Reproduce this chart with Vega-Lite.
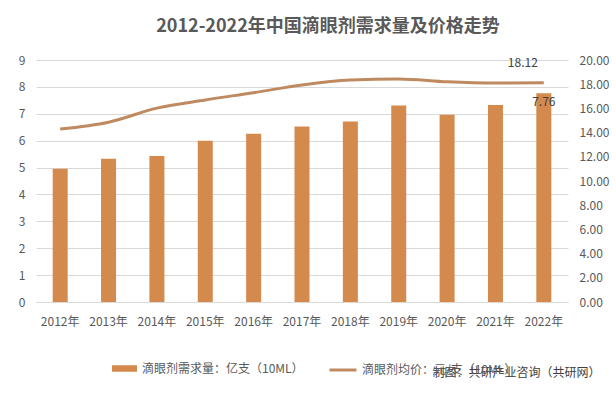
{
  "$schema": "https://vega.github.io/schema/vega-lite/v6.json",
  "width": 532,
  "height": 242,
  "autosize": {"type": "none"},
  "padding": {"left": 36, "top": 60, "right": 48, "bottom": 91},
  "background": "#ffffff",
  "config": {
    "font": "Noto Sans CJK SC",
    "view": {"stroke": null}
  },
  "title": {
    "text": "2012-2022年中国滴眼剂需求量及价格走势",
    "fontSize": 18,
    "fontWeight": "bold",
    "color": "#595959",
    "anchor": "middle",
    "dx": 26,
    "offset": 18
  },
  "data": {
    "values": [
      {"year": "2012年", "demand": 4.96, "price": 14.29},
      {"year": "2013年", "demand": 5.33, "price": 14.86},
      {"year": "2014年", "demand": 5.43, "price": 16.02},
      {"year": "2015年", "demand": 6.0, "price": 16.7},
      {"year": "2016年", "demand": 6.26, "price": 17.3},
      {"year": "2017年", "demand": 6.53, "price": 17.94},
      {"year": "2018年", "demand": 6.71, "price": 18.35},
      {"year": "2019年", "demand": 7.31, "price": 18.44},
      {"year": "2020年", "demand": 6.96, "price": 18.2},
      {"year": "2021年", "demand": 7.33, "price": 18.1},
      {"year": "2022年", "demand": 7.76, "price": 18.12}
    ]
  },
  "encoding": {
    "x": {
      "field": "year",
      "type": "ordinal",
      "sort": null,
      "scale": {"paddingInner": 0.69, "paddingOuter": 0.345},
      "axis": {
        "title": "制图：共研产业咨询（共研网）",
        "titleFontSize": 12,
        "titleFontWeight": "normal",
        "titleColor": "#404040",
        "titleX": 396,
        "titleY": 70,
        "titleAlign": "left",
        "titleAnchor": null,
        "titleBaseline": "middle",
        "labelAngle": 0,
        "labelFontSize": 12,
        "labelColor": "#595959",
        "labelPadding": 14,
        "labelOverlap": false,
        "ticks": false,
        "domain": true,
        "domainColor": "#D9D9D9"
      }
    }
  },
  "layer": [
    {
      "encoding": {
        "y": {
          "field": "demand",
          "type": "quantitative",
          "scale": {"domain": [0, 9], "nice": false},
          "axis": {
            "title": null,
            "values": [0, 1, 2, 3, 4, 5, 6, 7, 8, 9],
            "labelFontSize": 12,
            "labelColor": "#595959",
            "labelPadding": 11,
            "labelOverlap": false,
            "labelFlush": false,
            "ticks": false,
            "domain": false,
            "grid": true,
            "gridColor": "#D9D9D9"
          }
        }
      },
      "layer": [
        {
          "mark": {"type": "bar", "size": 15},
          "encoding": {
            "fill": {
              "datum": "滴眼剂需求量：亿支（10ML）",
              "scale": {"range": ["#D48A4C"]},
              "legend": {
                "title": null,
                "orient": "none",
                "legendX": 75,
                "legendY": 295,
                "symbolType": "M-1,-0.26H1V0.26H-1Z",
                "symbolSize": 625,
                "symbolOpacity": 1,
                "labelFontSize": 12,
                "labelColor": "#595959",
                "labelOffset": 4,
                "labelLimit": 400
              }
            }
          }
        },
        {
          "transform": [{"filter": "datum.year === '2022年'"}],
          "mark": {"type": "text", "fontSize": 12, "color": "#404040", "baseline": "middle", "dy": 9},
          "encoding": {
            "text": {"field": "demand", "type": "quantitative", "format": ".2f"}
          }
        }
      ]
    },
    {
      "encoding": {
        "y": {
          "field": "price",
          "type": "quantitative",
          "scale": {"domain": [0, 20], "nice": false},
          "axis": {
            "title": null,
            "orient": "right",
            "values": [0, 2, 4, 6, 8, 10, 12, 14, 16, 18, 20],
            "format": ".2f",
            "labelFontSize": 12,
            "labelColor": "#595959",
            "labelPadding": 11,
            "labelAlign": "left",
            "labelOverlap": false,
            "labelFlush": false,
            "ticks": false,
            "domain": false,
            "grid": false
          }
        }
      },
      "layer": [
        {
          "mark": {"type": "line", "strokeWidth": 3, "interpolate": "monotone"},
          "encoding": {
            "stroke": {
              "datum": "滴眼剂均价：元/支（10ML）",
              "scale": {"range": ["#C08A60"]},
              "legend": {
                "title": null,
                "orient": "none",
                "legendX": 292,
                "legendY": 295,
                "symbolType": "stroke",
                "symbolSize": 729,
                "symbolStrokeWidth": 3,
                "labelFontSize": 12,
                "labelColor": "#595959",
                "labelOffset": 4,
                "labelLimit": 400
              }
            }
          }
        },
        {
          "transform": [{"filter": "datum.year === '2022年'"}],
          "mark": {"type": "text", "fontSize": 12, "color": "#404040", "baseline": "middle", "dx": -21, "dy": -20},
          "encoding": {
            "text": {"field": "price", "type": "quantitative", "format": ".2f"}
          }
        }
      ]
    }
  ],
  "resolve": {"scale": {"y": "independent", "fill": "independent", "stroke": "independent"}}
}
